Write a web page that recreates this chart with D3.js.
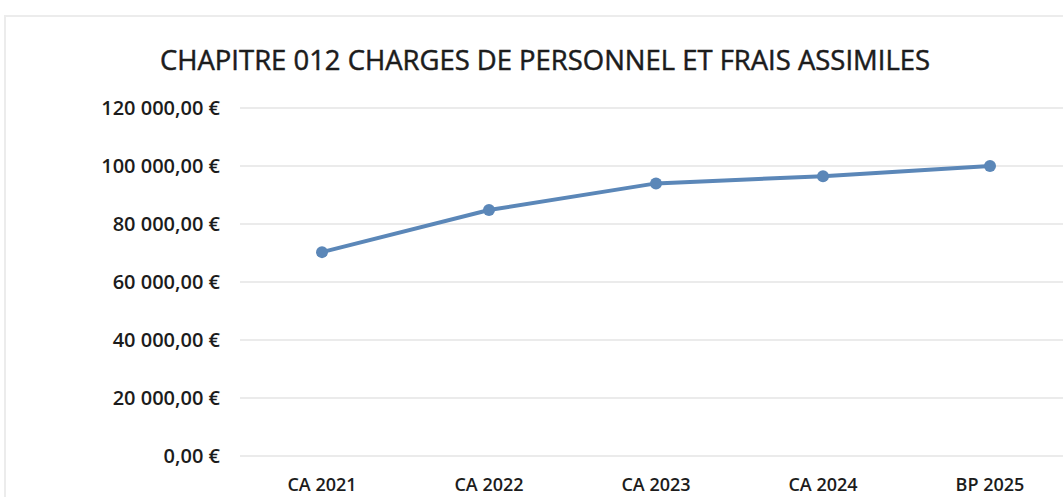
<!DOCTYPE html>
<html>
<head>
<meta charset="utf-8">
<script src="https://cdn.jsdelivr.net/npm/d3@7"></script>
<style>
  body { margin: 0; background: #fff; }
  text { font-family: "Open Sans", sans-serif; fill: #1c1c1c; }
</style>
</head>
<body>
<svg id="chart" width="1063" height="497"></svg>
<script>
// values
var categories = ["CA 2021", "CA 2022", "CA 2023", "CA 2024", "BP 2025"]
var values = [70300, 84800, 94000, 96500, 100000]
var yTicks = [0, 20000, 40000, 60000, 80000, 100000, 120000]
var title = "CHAPITRE 012 CHARGES DE PERSONNEL ET FRAIS ASSIMILES"

var svg = d3.select('#chart'),
    width = +svg.attr("width"),
    height = +svg.attr("height")

var fr = d3.formatLocale({ decimal: ",", thousands: "\u00a0", grouping: [3], currency: ["", " €"] })
var fmt = fr.format(",.2f")

var xScale = d3.scalePoint()
  .domain(categories)
  .range([322, 990])

var yScale = d3.scaleLinear()
  .domain([0, 120000])
  .range([456, 108])

// faint frame of the scanned chart
svg.append('path')
  .attr("d", "M5,497 L5,16 L1063,16")
  .attr("fill", "none")
  .attr("stroke", "#ececec")
  .attr("stroke-width", 2)

svg.append('text')
  .attr("x", 545).attr("y", 70)
  .attr("text-anchor", "middle")
  .attr("textLength", 770).attr("lengthAdjust", "spacingAndGlyphs")
  .style("font-size", "28px")
  .style("stroke", "#1c1c1c").style("stroke-width", 0.5)
  .text(title)

// grid
svg.append('g')
  .selectAll('line')
  .data(yTicks)
  .enter().append('line')
  .attr("x1", 240).attr("x2", width)
  .attr("y1", d => yScale(d)).attr("y2", d => yScale(d))
  .attr("stroke", "#e4e4e4").attr("stroke-width", 1.5)

// y labels
svg.append('g')
  .selectAll('text')
  .data(yTicks)
  .enter().append('text')
  .attr("x", 220)
  .attr("y", d => yScale(d) + 7)
  .attr("text-anchor", "end")
  .style("font-size", "20px")
  .style("font-weight", 600)
  .text(d => fmt(d) + " €")

// x labels
svg.append('g')
  .selectAll('text')
  .data(categories)
  .enter().append('text')
  .attr("x", d => xScale(d))
  .attr("y", 491)
  .attr("text-anchor", "middle")
  .style("font-size", "18px")
  .style("font-weight", 600)
  .text(d => d)

var lineGenerator = d3.line()
  .x((d, i) => xScale(categories[i]))
  .y(d => yScale(d))

svg.append('path')
  .attr("d", lineGenerator(values))
  .attr("fill", "none")
  .attr("stroke", "#5b87b8")
  .attr("stroke-width", 4)

svg.append('g')
  .selectAll('circle')
  .data(values)
  .enter().append('circle')
  .attr("cx", (d, i) => xScale(categories[i]))
  .attr("cy", d => yScale(d))
  .attr("r", 6)
  .attr("fill", "#5b87b8")
</script>
</body>
</html>
